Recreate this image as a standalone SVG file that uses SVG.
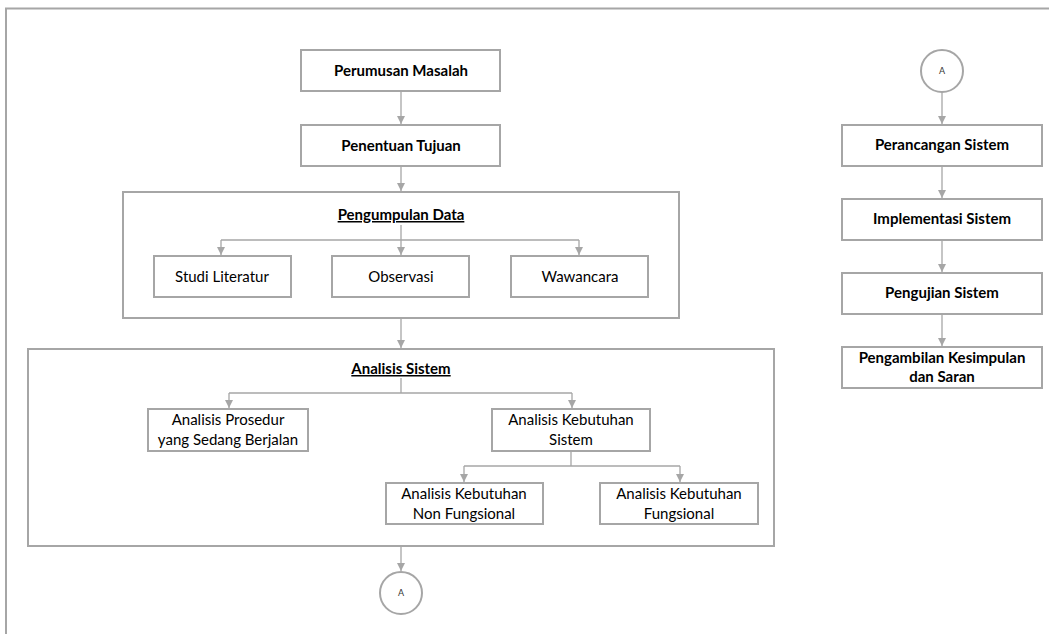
<svg xmlns="http://www.w3.org/2000/svg" width="1049" height="634" viewBox="0 0 1049 634">
<style>
.box{fill:#fff;stroke:#a6a6a6;stroke-width:2}
.frame{fill:none;stroke:#a6a6a6;stroke-width:2}
.con{fill:none;stroke:#a6a6a6;stroke-width:1.3}
.circ{fill:#fff;stroke:#a6a6a6;stroke-width:2}
.b{font-family:Lato,"Liberation Sans",sans-serif;font-weight:bold;font-size:15px;fill:#000;text-anchor:middle}
.n{font-family:Lato,"Liberation Sans",sans-serif;font-size:15px;fill:#000;text-anchor:middle}
.u{text-decoration:underline}
.s{font-family:Lato,"Liberation Sans",sans-serif;font-size:9px;fill:#333;text-anchor:middle}
</style>
<defs>
<marker id="ah" viewBox="0 0 10 10" refX="10" refY="5" markerWidth="8" markerHeight="8" markerUnits="userSpaceOnUse" orient="auto">
<path d="M0,0 L10,5 L0,10 z" fill="#a6a6a6"/>
</marker>
</defs>
<rect width="1049" height="634" fill="#fff"/>
<path class="frame" d="M6,640 V8.5 H1060"/>

<g id="perumusan"><rect class="box" x="301" y="50" width="199" height="41"/><text class="b" x="401" y="76">Perumusan Masalah</text></g>
<g id="penentuan"><rect class="box" x="301" y="125" width="199" height="41"/><text class="b" x="401" y="151">Penentuan Tujuan</text></g>

<g id="pengumpulan"><rect class="box" x="123" y="192" width="556" height="126"/><text class="b u" x="401" y="220">Pengumpulan Data</text></g>
<g id="studi"><rect class="box" x="154" y="256" width="137" height="41"/><text class="n" x="222" y="282">Studi Literatur</text></g>
<g id="observasi"><rect class="box" x="332" y="256" width="137" height="41"/><text class="n" x="401" y="282">Observasi</text></g>
<g id="wawancara"><rect class="box" x="511" y="256" width="137" height="41"/><text class="n" x="580" y="282">Wawancara</text></g>

<g id="analisis"><rect class="box" x="28" y="349" width="746" height="197"/><text class="b u" x="401" y="374">Analisis Sistem</text></g>
<g id="prosedur"><rect class="box" x="148" y="409" width="160" height="42"/><text class="n" x="228" y="425">Analisis Prosedur</text><text class="n" x="228" y="445">yang Sedang Berjalan</text></g>
<g id="kebutuhan"><rect class="box" x="492" y="409" width="158" height="42"/><text class="n" x="571" y="425">Analisis Kebutuhan</text><text class="n" x="571" y="445">Sistem</text></g>
<g id="nonfungsional"><rect class="box" x="386" y="483" width="157" height="41"/><text class="n" x="464" y="499">Analisis Kebutuhan</text><text class="n" x="464" y="519">Non Fungsional</text></g>
<g id="fungsional"><rect class="box" x="600" y="483" width="158" height="41"/><text class="n" x="679" y="499">Analisis Kebutuhan</text><text class="n" x="679" y="519">Fungsional</text></g>

<g id="connA1"><circle class="circ" cx="401" cy="593" r="21"/><text class="s" x="401" y="596">A</text></g>
<g id="connA2"><circle class="circ" cx="942" cy="71" r="21"/><text class="s" x="942" y="74">A</text></g>

<g id="perancangan"><rect class="box" x="842" y="125" width="200" height="41"/><text class="b" x="942" y="150">Perancangan Sistem</text></g>
<g id="implementasi"><rect class="box" x="842" y="199" width="200" height="41"/><text class="b" x="942" y="224">Implementasi Sistem</text></g>
<g id="pengujian"><rect class="box" x="842" y="273" width="200" height="41"/><text class="b" x="942" y="298">Pengujian Sistem</text></g>
<g id="pengambilan"><rect class="box" x="842" y="347" width="200" height="41"/><text class="b" x="942" y="363">Pengambilan Kesimpulan</text><text class="b" x="942" y="382">dan Saran</text></g>

<g id="connectors">
<line class="con" x1="401" y1="92" x2="401" y2="124" marker-end="url(#ah)"/>
<line class="con" x1="401" y1="167" x2="401" y2="191" marker-end="url(#ah)"/>
<path class="con" d="M401,225 V240"/>
<path class="con" d="M221,240 H579"/>
<line class="con" x1="221" y1="240" x2="221" y2="255" marker-end="url(#ah)"/>
<line class="con" x1="401" y1="240" x2="401" y2="255" marker-end="url(#ah)"/>
<line class="con" x1="579" y1="240" x2="579" y2="255" marker-end="url(#ah)"/>
<line class="con" x1="401" y1="319" x2="401" y2="348" marker-end="url(#ah)"/>
<path class="con" d="M401,378 V393 M229,393 H572"/>
<line class="con" x1="229" y1="393" x2="229" y2="408" marker-end="url(#ah)"/>
<line class="con" x1="572" y1="393" x2="572" y2="408" marker-end="url(#ah)"/>
<path class="con" d="M571,452 V466 M464,466 H680"/>
<line class="con" x1="464" y1="466" x2="464" y2="482" marker-end="url(#ah)"/>
<line class="con" x1="680" y1="466" x2="680" y2="482" marker-end="url(#ah)"/>
<line class="con" x1="401" y1="547" x2="401" y2="571" marker-end="url(#ah)"/>
<line class="con" x1="942" y1="92" x2="942" y2="124" marker-end="url(#ah)"/>
<line class="con" x1="942" y1="167" x2="942" y2="198" marker-end="url(#ah)"/>
<line class="con" x1="942" y1="241" x2="942" y2="272" marker-end="url(#ah)"/>
<line class="con" x1="942" y1="315" x2="942" y2="346" marker-end="url(#ah)"/>
</g>
</svg>
